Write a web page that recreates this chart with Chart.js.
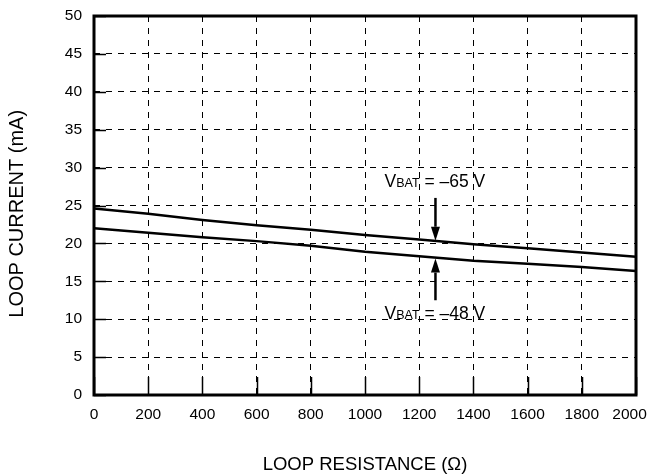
<!DOCTYPE html>
<html>
<head>
<meta charset="utf-8">
<script src="https://cdn.jsdelivr.net/npm/chart.js@4"></script>
<style>
  html, body { margin: 0; padding: 0; background: #fff; }
  #wrap { width: 652px; height: 476px; }
</style>
</head>
<body>
<div id="wrap"><canvas id="loopChart"></canvas></div>
<script>
// loop resistance (ohm) vs loop current (mA)
const resistance = [0, 200, 400, 600, 800, 1000, 1200, 1400, 1600, 1800, 2000];
const vbat65 = [24.6, 23.9, 23.1, 22.4, 21.8, 21.1, 20.5, 19.9, 19.35, 18.8, 18.25];
const vbat48 = [22.0, 21.4, 20.8, 20.3, 19.7, 18.9, 18.3, 17.7, 17.3, 16.9, 16.35];

const xTicks = [0, 200, 400, 600, 800, 1000, 1200, 1400, 1600, 1800, 2000];
const yTicks = [0, 5, 10, 15, 20, 25, 30, 35, 40, 45, 50];

// callouts, in data units
const callouts = [
    { label: "\u201365 V", textAt: [1072, 27.5], arrowX: 1260, from: 26.0, tip: 20.35 },
    { label: "\u201348 V", textAt: [1072, 10.0], arrowX: 1260, from: 12.5, tip: 18.0 }
];

const FONT = "'Liberation Sans', Arial, sans-serif";

function toPoints(xs, ys) {
    return xs.map((x, i) => ({ x: x, y: ys[i] }));
}

function noPadding(s) {
    s.paddingLeft = 0;
    s.paddingRight = 0;
    s.paddingTop = 0;
    s.paddingBottom = 0;
}

const framePlugin = {
    id: "frame",
    afterDraw(chart) {
        const ctx = chart.ctx;
        const area = chart.chartArea;
        const xs = chart.scales.x;
        const ys = chart.scales.y;

        ctx.save();
        ctx.strokeStyle = "#000";
        ctx.fillStyle = "#000";

        // inward tick marks
        ctx.lineWidth = 1.5;
        ctx.beginPath();
        xTicks.forEach(v => {
            const px = Math.round(xs.getPixelForValue(v)) + 0.5;
            ctx.moveTo(px, area.bottom);
            ctx.lineTo(px, area.bottom - 18);
        });
        yTicks.forEach(v => {
            const py = Math.round(ys.getPixelForValue(v)) + 0.5;
            ctx.moveTo(area.left, py);
            ctx.lineTo(area.left + 12, py);
        });
        ctx.stroke();

        // heavy frame
        ctx.lineWidth = 3;
        ctx.strokeRect(area.left, area.top, area.right - area.left, area.bottom - area.top);

        // callouts
        callouts.forEach(c => {
            let tx = xs.getPixelForValue(c.textAt[0]);
            const ty = ys.getPixelForValue(c.textAt[1]);
            ctx.textBaseline = "alphabetic";
            ctx.textAlign = "left";
            ctx.font = "17.5px " + FONT;
            ctx.fillText("V", tx, ty);
            tx += ctx.measureText("V").width;
            ctx.font = "12.5px " + FONT;
            ctx.fillText("BAT", tx, ty);
            tx += ctx.measureText("BAT").width;
            ctx.font = "17.5px " + FONT;
            ctx.fillText(" = " + c.label, tx, ty);

            const ax = xs.getPixelForValue(c.arrowX);
            const y0 = ys.getPixelForValue(c.from);
            const y1 = ys.getPixelForValue(c.tip);
            const dir = y1 > y0 ? 1 : -1;
            const head = 14;
            ctx.lineWidth = 2.5;
            ctx.beginPath();
            ctx.moveTo(ax, y0);
            ctx.lineTo(ax, y1 - dir * head);
            ctx.stroke();
            ctx.beginPath();
            ctx.moveTo(ax, y1);
            ctx.lineTo(ax - 4.5, y1 - dir * head);
            ctx.lineTo(ax + 4.5, y1 - dir * head);
            ctx.closePath();
            ctx.fill();
        });
        ctx.restore();
    }
};

new Chart(document.getElementById("loopChart"), {
    type: "line",
    data: {
        datasets: [
            {
                label: "VBAT = -65 V",
                data: toPoints(resistance, vbat65),
                borderColor: "#000",
                borderWidth: 2.5,
                pointRadius: 0,
                tension: 0
            },
            {
                label: "VBAT = -48 V",
                data: toPoints(resistance, vbat48),
                borderColor: "#000",
                borderWidth: 2.5,
                pointRadius: 0,
                tension: 0
            }
        ]
    },
    options: {
        responsive: true,
        maintainAspectRatio: false,
        animation: false,
        layout: { padding: { top: 16, right: 16, left: 0, bottom: 0 } },
        plugins: {
            legend: { display: false },
            tooltip: { enabled: false }
        },
        scales: {
            x: {
                type: "linear",
                min: 0,
                max: 2000,
                afterBuildTicks: s => { s.ticks = xTicks.map(v => ({ value: v })); },
                afterFit: s => { s.height = 81; noPadding(s); },
                grid: { color: "#000", lineWidth: 1, drawTicks: false },
                border: { display: false, dash: [6, 6] },
                ticks: {
                    color: "#000",
                    font: { family: FONT, size: 15.5 },
                    padding: 10,
                    maxRotation: 0,
                    autoSkip: false,
                    // last label sits a little left so it stays inside the page
                    callback: v => v === 2000 ? String(v) + "   " : String(v)
                },
                title: {
                    display: true,
                    text: "LOOP RESISTANCE (\u03A9)",
                    color: "#000",
                    font: { family: FONT, size: 18.5 },
                    padding: { top: 0, bottom: 0 }
                }
            },
            y: {
                min: 0,
                max: 50,
                afterBuildTicks: s => { s.ticks = yTicks.map(v => ({ value: v })); },
                afterFit: s => { s.width = 94; noPadding(s); },
                grid: { color: "#000", lineWidth: 1, drawTicks: false },
                border: { display: false, dash: [6, 6] },
                ticks: {
                    color: "#000",
                    font: { family: FONT, size: 15.5 },
                    padding: 12,
                    callback: v => String(v)
                },
                title: {
                    display: true,
                    text: "LOOP CURRENT (mA)   ",
                    color: "#000",
                    font: { family: FONT, size: 20 },
                    padding: { top: 5, bottom: 0 }
                }
            }
        }
    },
    plugins: [framePlugin]
});
</script>
</body>
</html>
